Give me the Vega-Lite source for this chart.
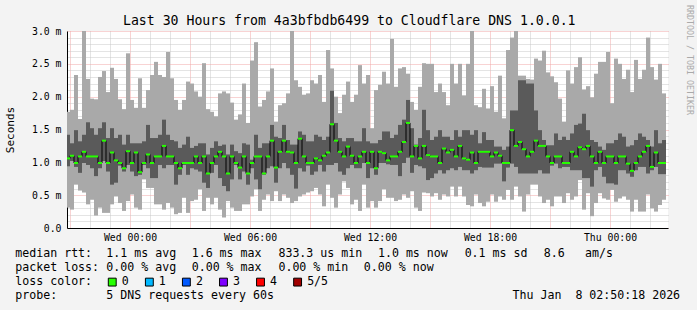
{
"$schema": "https://vega.github.io/schema/vega-lite/v6.json",
"background": "#f3f3f3",
"autosize": {"type": "none"},
"width": 601, "height": 197,
"padding": {"left": 67, "top": 31, "right": 29, "bottom": 82},
"title": {"text": "Last 30 Hours from 4a3bfbdb6499 to Cloudflare DNS 1.0.0.1", "font": "DejaVu Sans Mono", "fontSize": 13.2, "fontWeight": "normal", "color": "#000000", "anchor": "middle", "frame": "bounds", "baseline": "alphabetic", "offset": -33},
"config": {"view": {"stroke": null}},
"view": {"fill": "#ffffff", "stroke": null},
"layer": [
{
"data": {"values": [
{"t":"2026-01-06T20:54:00Z","min":0.31,"p2":0.94,"med":1.06,"p4":1.42,"max":1.77},
{"t":"2026-01-06T21:06:00Z","min":0.28,"p2":1.02,"med":1.10,"p4":1.29,"max":1.80},
{"t":"2026-01-06T21:18:00Z","min":0.66,"p2":0.93,"med":0.99,"p4":1.49,"max":2.33},
{"t":"2026-01-06T21:30:00Z","min":0.57,"p2":0.84,"med":1.09,"p4":1.32,"max":1.66},
{"t":"2026-01-06T21:42:00Z","min":0.54,"p2":0.99,"med":1.16,"p4":1.42,"max":3.05},
{"t":"2026-01-06T21:54:00Z","min":0.36,"p2":0.96,"med":1.09,"p4":1.61,"max":2.27},
{"t":"2026-01-06T22:06:00Z","min":0.43,"p2":0.91,"med":1.09,"p4":1.52,"max":1.97},
{"t":"2026-01-06T22:18:00Z","min":0.19,"p2":0.79,"med":1.09,"p4":1.42,"max":1.96},
{"t":"2026-01-06T22:30:00Z","min":0.31,"p2":0.91,"med":0.99,"p4":1.52,"max":2.30},
{"t":"2026-01-06T22:42:00Z","min":0.23,"p2":1.02,"med":1.33,"p4":1.61,"max":2.39},
{"t":"2026-01-06T22:54:00Z","min":0.23,"p2":0.86,"med":0.99,"p4":1.37,"max":2.07},
{"t":"2026-01-06T23:06:00Z","min":0.36,"p2":0.66,"med":1.15,"p4":1.52,"max":2.44},
{"t":"2026-01-06T23:18:00Z","min":0.48,"p2":0.69,"med":1.03,"p4":1.37,"max":2.27},
{"t":"2026-01-06T23:30:00Z","min":0.38,"p2":0.95,"med":0.99,"p4":1.42,"max":1.96},
{"t":"2026-01-06T23:42:00Z","min":0.26,"p2":0.86,"med":0.91,"p4":1.27,"max":1.81},
{"t":"2026-01-06T23:54:00Z","min":0.41,"p2":0.96,"med":1.17,"p4":1.42,"max":2.66},
{"t":"2026-01-07T00:06:00Z","min":0.51,"p2":0.86,"med":0.99,"p4":1.29,"max":1.95},
{"t":"2026-01-07T00:18:00Z","min":0.31,"p2":0.79,"med":1.15,"p4":1.29,"max":1.83},
{"t":"2026-01-07T00:30:00Z","min":0.28,"p2":0.81,"med":0.85,"p4":1.29,"max":2.28},
{"t":"2026-01-07T00:42:00Z","min":0.74,"p2":0.96,"med":0.99,"p4":1.32,"max":1.83},
{"t":"2026-01-07T00:54:00Z","min":0.61,"p2":0.91,"med":1.12,"p4":1.57,"max":2.10},
{"t":"2026-01-07T01:06:00Z","min":0.61,"p2":0.76,"med":0.99,"p4":1.37,"max":2.33},
{"t":"2026-01-07T01:18:00Z","min":0.36,"p2":0.76,"med":1.09,"p4":1.37,"max":2.53},
{"t":"2026-01-07T01:30:00Z","min":0.36,"p2":0.96,"med":1.09,"p4":1.42,"max":2.33},
{"t":"2026-01-07T01:42:00Z","min":0.28,"p2":0.91,"med":1.25,"p4":1.65,"max":2.30},
{"t":"2026-01-07T01:54:00Z","min":0.38,"p2":0.96,"med":1.09,"p4":1.42,"max":2.68},
{"t":"2026-01-07T02:06:00Z","min":0.31,"p2":0.96,"med":1.09,"p4":1.34,"max":2.28},
{"t":"2026-01-07T02:18:00Z","min":0.21,"p2":0.66,"med":0.99,"p4":1.32,"max":1.95},
{"t":"2026-01-07T02:30:00Z","min":0.23,"p2":0.81,"med":0.91,"p4":1.22,"max":1.80},
{"t":"2026-01-07T02:42:00Z","min":0.46,"p2":0.96,"med":0.99,"p4":1.27,"max":1.95},
{"t":"2026-01-07T02:54:00Z","min":0.23,"p2":0.81,"med":0.99,"p4":1.39,"max":2.23},
{"t":"2026-01-07T03:06:00Z","min":0.41,"p2":0.91,"med":0.99,"p4":1.22,"max":2.20},
{"t":"2026-01-07T03:18:00Z","min":0.43,"p2":0.89,"med":1.09,"p4":1.25,"max":2.08},
{"t":"2026-01-07T03:30:00Z","min":0.59,"p2":0.86,"med":0.99,"p4":1.29,"max":2.00},
{"t":"2026-01-07T03:42:00Z","min":0.26,"p2":0.69,"med":1.09,"p4":1.29,"max":2.51},
{"t":"2026-01-07T03:54:00Z","min":0.46,"p2":0.61,"med":0.83,"p4":1.12,"max":1.81},
{"t":"2026-01-07T04:06:00Z","min":0.36,"p2":0.84,"med":0.99,"p4":1.22,"max":1.77},
{"t":"2026-01-07T04:18:00Z","min":0.46,"p2":0.96,"med":1.09,"p4":1.32,"max":1.70},
{"t":"2026-01-07T04:30:00Z","min":0.28,"p2":0.76,"med":1.16,"p4":1.25,"max":2.05},
{"t":"2026-01-07T04:42:00Z","min":0.16,"p2":0.64,"med":1.09,"p4":1.27,"max":2.08},
{"t":"2026-01-07T04:54:00Z","min":0.41,"p2":0.56,"med":0.83,"p4":1.12,"max":2.05},
{"t":"2026-01-07T05:06:00Z","min":0.31,"p2":0.74,"med":1.09,"p4":1.27,"max":1.91},
{"t":"2026-01-07T05:18:00Z","min":0.26,"p2":0.96,"med":0.99,"p4":1.17,"max":1.65},
{"t":"2026-01-07T05:30:00Z","min":0.26,"p2":0.74,"med":0.92,"p4":1.14,"max":1.73},
{"t":"2026-01-07T05:42:00Z","min":0.36,"p2":0.86,"med":1.09,"p4":1.29,"max":2.20},
{"t":"2026-01-07T05:54:00Z","min":0.36,"p2":0.66,"med":0.83,"p4":1.27,"max":1.60},
{"t":"2026-01-07T06:06:00Z","min":0.48,"p2":0.91,"med":0.99,"p4":1.04,"max":2.55},
{"t":"2026-01-07T06:18:00Z","min":0.59,"p2":0.74,"med":1.09,"p4":1.42,"max":2.83},
{"t":"2026-01-07T06:30:00Z","min":0.26,"p2":0.59,"med":1.09,"p4":1.22,"max":1.85},
{"t":"2026-01-07T06:42:00Z","min":0.43,"p2":0.81,"med":0.83,"p4":1.29,"max":1.95},
{"t":"2026-01-07T06:54:00Z","min":0.51,"p2":0.91,"med":1.09,"p4":1.29,"max":2.08},
{"t":"2026-01-07T07:06:00Z","min":0.41,"p2":0.94,"med":1.33,"p4":1.57,"max":2.43},
{"t":"2026-01-07T07:18:00Z","min":0.56,"p2":0.69,"med":0.92,"p4":1.39,"max":1.62},
{"t":"2026-01-07T07:30:00Z","min":0.41,"p2":0.91,"med":1.16,"p4":1.37,"max":1.87},
{"t":"2026-01-07T07:42:00Z","min":0.51,"p2":0.99,"med":1.33,"p4":1.57,"max":1.90},
{"t":"2026-01-07T07:54:00Z","min":0.46,"p2":0.91,"med":1.16,"p4":1.34,"max":2.05},
{"t":"2026-01-07T08:06:00Z","min":0.38,"p2":0.81,"med":1.15,"p4":1.27,"max":3.05},
{"t":"2026-01-07T08:18:00Z","min":0.41,"p2":0.60,"med":0.99,"p4":1.27,"max":2.25},
{"t":"2026-01-07T08:30:00Z","min":0.48,"p2":0.91,"med":1.36,"p4":1.47,"max":2.15},
{"t":"2026-01-07T08:42:00Z","min":0.51,"p2":0.86,"med":1.09,"p4":1.42,"max":2.03},
{"t":"2026-01-07T08:54:00Z","min":0.54,"p2":0.95,"med":0.99,"p4":1.32,"max":2.05},
{"t":"2026-01-07T09:06:00Z","min":0.56,"p2":0.81,"med":0.99,"p4":1.32,"max":2.25},
{"t":"2026-01-07T09:18:00Z","min":0.61,"p2":0.86,"med":1.06,"p4":1.42,"max":2.20},
{"t":"2026-01-07T09:30:00Z","min":0.51,"p2":0.96,"med":1.03,"p4":1.39,"max":2.33},
{"t":"2026-01-07T09:42:00Z","min":0.33,"p2":0.86,"med":1.10,"p4":1.34,"max":1.92},
{"t":"2026-01-07T09:54:00Z","min":0.66,"p2":0.96,"med":1.15,"p4":1.39,"max":2.71},
{"t":"2026-01-07T10:06:00Z","min":0.46,"p2":0.96,"med":1.58,"p4":2.09,"max":2.43},
{"t":"2026-01-07T10:18:00Z","min":0.31,"p2":0.99,"med":1.33,"p4":1.60,"max":2.00},
{"t":"2026-01-07T10:30:00Z","min":0.51,"p2":0.86,"med":1.16,"p4":1.37,"max":1.75},
{"t":"2026-01-07T10:42:00Z","min":0.71,"p2":0.81,"med":1.09,"p4":1.32,"max":2.03},
{"t":"2026-01-07T10:54:00Z","min":0.61,"p2":0.91,"med":1.24,"p4":1.37,"max":2.23},
{"t":"2026-01-07T11:06:00Z","min":0.36,"p2":0.96,"med":1.10,"p4":1.37,"max":1.92},
{"t":"2026-01-07T11:18:00Z","min":0.43,"p2":0.91,"med":0.99,"p4":1.32,"max":2.03},
{"t":"2026-01-07T11:30:00Z","min":0.26,"p2":0.91,"med":1.09,"p4":1.32,"max":2.48},
{"t":"2026-01-07T11:42:00Z","min":0.66,"p2":0.99,"med":1.16,"p4":1.52,"max":2.20},
{"t":"2026-01-07T11:54:00Z","min":0.31,"p2":0.76,"med":0.99,"p4":1.32,"max":2.33},
{"t":"2026-01-07T12:06:00Z","min":0.41,"p2":0.91,"med":1.16,"p4":1.29,"max":1.52},
{"t":"2026-01-07T12:18:00Z","min":0.31,"p2":0.81,"med":0.91,"p4":1.29,"max":2.10},
{"t":"2026-01-07T12:30:00Z","min":0.41,"p2":0.99,"med":1.16,"p4":1.34,"max":2.18},
{"t":"2026-01-07T12:42:00Z","min":0.59,"p2":0.99,"med":1.14,"p4":1.47,"max":2.38},
{"t":"2026-01-07T12:54:00Z","min":0.46,"p2":0.97,"med":1.03,"p4":1.47,"max":2.20},
{"t":"2026-01-07T13:06:00Z","min":0.46,"p2":0.96,"med":1.09,"p4":1.37,"max":2.88},
{"t":"2026-01-07T13:18:00Z","min":0.41,"p2":0.96,"med":1.09,"p4":1.42,"max":2.15},
{"t":"2026-01-07T13:30:00Z","min":0.43,"p2":0.79,"med":1.16,"p4":1.57,"max":2.43},
{"t":"2026-01-07T13:42:00Z","min":0.51,"p2":0.99,"med":1.31,"p4":1.65,"max":2.45},
{"t":"2026-01-07T13:54:00Z","min":0.46,"p2":1.07,"med":1.60,"p4":1.95,"max":2.35},
{"t":"2026-01-07T14:06:00Z","min":0.56,"p2":0.84,"med":1.09,"p4":1.52,"max":1.92},
{"t":"2026-01-07T14:18:00Z","min":0.31,"p2":0.96,"med":1.25,"p4":1.27,"max":1.80},
{"t":"2026-01-07T14:30:00Z","min":0.26,"p2":0.94,"med":1.06,"p4":1.37,"max":2.15},
{"t":"2026-01-07T14:42:00Z","min":0.54,"p2":0.91,"med":1.25,"p4":1.80,"max":2.51},
{"t":"2026-01-07T14:54:00Z","min":0.53,"p2":0.73,"med":1.11,"p4":1.49,"max":2.50},
{"t":"2026-01-07T15:06:00Z","min":0.48,"p2":0.76,"med":1.09,"p4":1.34,"max":2.50},
{"t":"2026-01-07T15:18:00Z","min":0.53,"p2":0.83,"med":1.09,"p4":1.39,"max":2.07},
{"t":"2026-01-07T15:30:00Z","min":0.43,"p2":0.88,"med":0.99,"p4":1.49,"max":2.20},
{"t":"2026-01-07T15:42:00Z","min":0.51,"p2":0.83,"med":1.21,"p4":1.39,"max":2.07},
{"t":"2026-01-07T15:54:00Z","min":0.48,"p2":0.88,"med":1.15,"p4":1.39,"max":1.87},
{"t":"2026-01-07T16:06:00Z","min":0.63,"p2":0.91,"med":1.19,"p4":1.34,"max":2.50},
{"t":"2026-01-07T16:18:00Z","min":0.48,"p2":0.88,"med":1.09,"p4":1.49,"max":2.20},
{"t":"2026-01-07T16:30:00Z","min":0.63,"p2":0.93,"med":1.25,"p4":1.39,"max":2.50},
{"t":"2026-01-07T16:42:00Z","min":0.48,"p2":0.88,"med":1.06,"p4":1.49,"max":2.02},
{"t":"2026-01-07T16:54:00Z","min":0.35,"p2":0.88,"med":1.04,"p4":1.49,"max":2.50},
{"t":"2026-01-07T17:06:00Z","min":0.33,"p2":0.83,"med":1.15,"p4":1.42,"max":3.05},
{"t":"2026-01-07T17:18:00Z","min":0.51,"p2":0.88,"med":0.99,"p4":1.49,"max":1.87},
{"t":"2026-01-07T17:30:00Z","min":0.38,"p2":0.93,"med":1.16,"p4":1.29,"max":1.84},
{"t":"2026-01-07T17:42:00Z","min":0.33,"p2":0.92,"med":1.16,"p4":1.46,"max":2.12},
{"t":"2026-01-07T17:54:00Z","min":0.40,"p2":0.92,"med":1.16,"p4":1.34,"max":1.82},
{"t":"2026-01-07T18:06:00Z","min":0.51,"p2":0.92,"med":1.09,"p4":1.34,"max":2.16},
{"t":"2026-01-07T18:18:00Z","min":0.40,"p2":0.98,"med":1.15,"p4":1.24,"max":1.77},
{"t":"2026-01-07T18:30:00Z","min":0.48,"p2":0.98,"med":1.10,"p4":1.24,"max":2.32},
{"t":"2026-01-07T18:42:00Z","min":0.43,"p2":0.71,"med":0.99,"p4":1.19,"max":1.67},
{"t":"2026-01-07T18:54:00Z","min":0.58,"p2":0.92,"med":0.99,"p4":1.24,"max":2.71},
{"t":"2026-01-07T19:06:00Z","min":0.43,"p2":0.98,"med":1.49,"p4":1.79,"max":2.90},
{"t":"2026-01-07T19:18:00Z","min":0.63,"p2":0.93,"med":1.25,"p4":1.79,"max":3.05},
{"t":"2026-01-07T19:30:00Z","min":0.48,"p2":0.83,"med":1.31,"p4":2.25,"max":2.32},
{"t":"2026-01-07T19:42:00Z","min":0.25,"p2":0.83,"med":1.20,"p4":2.25,"max":2.32},
{"t":"2026-01-07T19:54:00Z","min":0.51,"p2":0.83,"med":1.09,"p4":2.20,"max":2.27},
{"t":"2026-01-07T20:06:00Z","min":0.66,"p2":0.83,"med":1.16,"p4":2.20,"max":2.26},
{"t":"2026-01-07T20:18:00Z","min":0.66,"p2":0.83,"med":1.33,"p4":1.79,"max":2.58},
{"t":"2026-01-07T20:30:00Z","min":0.48,"p2":0.88,"med":1.25,"p4":1.49,"max":2.55},
{"t":"2026-01-07T20:42:00Z","min":0.38,"p2":0.83,"med":1.25,"p4":1.34,"max":2.70},
{"t":"2026-01-07T20:54:00Z","min":0.43,"p2":0.83,"med":1.09,"p4":1.26,"max":2.37},
{"t":"2026-01-07T21:06:00Z","min":0.33,"p2":0.95,"med":0.99,"p4":1.26,"max":2.31},
{"t":"2026-01-07T21:18:00Z","min":0.48,"p2":0.98,"med":1.09,"p4":1.44,"max":2.22},
{"t":"2026-01-07T21:30:00Z","min":0.48,"p2":0.91,"med":1.09,"p4":1.34,"max":1.97},
{"t":"2026-01-07T21:42:00Z","min":0.38,"p2":0.93,"med":0.99,"p4":1.39,"max":1.62},
{"t":"2026-01-07T21:54:00Z","min":0.53,"p2":0.93,"med":0.99,"p4":1.34,"max":2.40},
{"t":"2026-01-07T22:06:00Z","min":0.43,"p2":0.88,"med":1.16,"p4":1.44,"max":2.20},
{"t":"2026-01-07T22:18:00Z","min":0.48,"p2":0.88,"med":1.09,"p4":1.57,"max":2.45},
{"t":"2026-01-07T22:30:00Z","min":0.73,"p2":0.88,"med":1.23,"p4":1.59,"max":2.60},
{"t":"2026-01-07T22:42:00Z","min":0.28,"p2":0.76,"med":1.20,"p4":1.74,"max":2.11},
{"t":"2026-01-07T22:54:00Z","min":0.53,"p2":0.76,"med":1.25,"p4":1.49,"max":2.16},
{"t":"2026-01-07T23:06:00Z","min":0.18,"p2":0.63,"med":1.09,"p4":1.34,"max":1.99},
{"t":"2026-01-07T23:18:00Z","min":0.38,"p2":0.88,"med":0.99,"p4":1.31,"max":2.35},
{"t":"2026-01-07T23:30:00Z","min":0.53,"p2":0.93,"med":1.16,"p4":1.24,"max":2.53},
{"t":"2026-01-07T23:42:00Z","min":0.45,"p2":0.78,"med":0.99,"p4":1.19,"max":2.53},
{"t":"2026-01-07T23:54:00Z","min":0.43,"p2":0.68,"med":1.09,"p4":1.29,"max":2.68},
{"t":"2026-01-08T00:06:00Z","min":0.58,"p2":0.68,"med":1.09,"p4":1.29,"max":1.90},
{"t":"2026-01-08T00:18:00Z","min":0.40,"p2":0.66,"med":0.99,"p4":1.34,"max":2.58},
{"t":"2026-01-08T00:30:00Z","min":0.45,"p2":0.88,"med":1.09,"p4":1.44,"max":2.50},
{"t":"2026-01-08T00:42:00Z","min":0.48,"p2":0.88,"med":1.09,"p4":1.39,"max":2.27},
{"t":"2026-01-08T00:54:00Z","min":0.43,"p2":0.83,"med":0.98,"p4":1.24,"max":2.41},
{"t":"2026-01-08T01:06:00Z","min":0.25,"p2":0.78,"med":0.87,"p4":1.26,"max":2.07},
{"t":"2026-01-08T01:18:00Z","min":0.43,"p2":0.88,"med":0.99,"p4":1.34,"max":2.56},
{"t":"2026-01-08T01:30:00Z","min":0.25,"p2":0.93,"med":1.09,"p4":1.44,"max":2.27},
{"t":"2026-01-08T01:42:00Z","min":0.25,"p2":0.93,"med":1.16,"p4":1.39,"max":2.41},
{"t":"2026-01-08T01:54:00Z","min":0.51,"p2":0.83,"med":1.25,"p4":1.34,"max":2.90},
{"t":"2026-01-08T02:06:00Z","min":0.30,"p2":0.88,"med":0.93,"p4":1.24,"max":2.45},
{"t":"2026-01-08T02:18:00Z","min":0.25,"p2":0.93,"med":1.15,"p4":1.49,"max":2.26},
{"t":"2026-01-08T02:30:00Z","min":0.35,"p2":0.82,"med":0.99,"p4":1.29,"max":2.50},
{"t":"2026-01-08T02:42:00Z","min":0.43,"p2":0.82,"med":0.99,"p4":1.34,"max":2.05}
]},
"encoding": {
"x": {"field": "t", "type": "temporal",
"scale": {"type": "utc", "domain": [{"year": 2026, "month": 1, "date": 6, "hours": 20, "minutes": 51, "utc": true}, {"year": 2026, "month": 1, "date": 8, "hours": 2, "minutes": 54, "utc": true}], "nice": false, "padding": 0},
"axis": {"title": null, "tickCount": 30,
"labelExpr": "utchours(datum.value) % 6 == 0 ? utcFormat(datum.value, '%a %H:%M') : ''",
"labelFont": "DejaVu Sans Mono", "labelFontSize": 9.8, "labelColor": "#000000", "labelPadding": 4.6,
"labelFlush": false, "labelOverlap": false, "labelBound": false,
"ticks": false, "domainColor": "#000000", "domainWidth": 1,
"grid": true, "gridDash": [1, 1], "gridWidth": 1, "gridOpacity": 1,
"gridColor": {"condition": {"test": "utchours(datum.value) % 3 == 0", "value": "#f0a6a6"}, "value": "#c8c8c8"}}}
},
"layer": [
{"mark": {"type": "bar", "width": 4, "color": "#a9a9a9", "clip": true},
"encoding": {
"y": {"field": "min", "type": "quantitative", "scale": {"domain": [0, 3], "nice": false, "zero": true},
"axis": {"tickCount": 30,
"labelExpr": "abs(datum.value*2 - round(datum.value*2)) < 0.01 ? (datum.value == 0 ? '0.0' : format(datum.value, '.1f') + ' m') : ''",
"labelFont": "DejaVu Sans Mono", "labelFontSize": 9.8, "labelColor": "#000000", "labelPadding": 6,
"labelOverlap": false, "labelBound": false, "labelFlush": false,
"ticks": false, "domainColor": "#000000", "domainWidth": 1,
"grid": true, "gridDash": [1, 1], "gridWidth": 1, "gridOpacity": 1,
"gridColor": {"condition": {"test": "abs(datum.value*2 - round(datum.value*2)) < 0.01", "value": "#f0a6a6"}, "value": "#c8c8c8"},
"title": "Seconds", "titleFont": "DejaVu Sans Mono", "titleFontSize": 11, "titleFontWeight": "normal", "titleColor": "#000000",
"titleAngle": -90, "titleBaseline": "bottom", "titleAlign": "center", "titleX": -51.5, "titleY": 98.5}},
"y2": {"field": "max"}}},
{"mark": {"type": "bar", "width": 4, "color": "#5a5a5a", "clip": true},
"encoding": {
"y": {"field": "p2", "type": "quantitative"},
"y2": {"field": "p4"}}},
{"mark": {"type": "line", "interpolate": "step", "color": "#000000", "strokeWidth": 1, "clip": true},
"encoding": {
"y": {"field": "med", "type": "quantitative"}}},
{"mark": {"type": "tick", "orient": "horizontal", "size": 4, "thickness": 2, "color": "#26ff00", "opacity": 1, "clip": true},
"encoding": {
"y": {"field": "med", "type": "quantitative"}}}
]
},
{
"layer": [
{"data": {"values": [
{"line": 1, "col": 0, "text": "median rtt:"},
{"line": 1, "col": 13.01, "text": "1.1 ms avg"},
{"line": 1, "col": 25.2, "text": "1.6 ms max"},
{"line": 1, "col": 37.59, "text": "833.3 us min"},
{"line": 1, "col": 51.81, "text": "1.0 ms now"},
{"line": 1, "col": 64.19, "text": "0.1 ms sd"},
{"line": 1, "col": 75.49, "text": "8.6"},
{"line": 1, "col": 81.4, "text": "am/s"},
{"line": 2, "col": 0, "text": "packet loss:"},
{"line": 2, "col": 13.01, "text": "0.00 % avg"},
{"line": 2, "col": 25.2, "text": "0.00 % max"},
{"line": 2, "col": 37.59, "text": "0.00 % min"},
{"line": 2, "col": 49.79, "text": "0.00 % now"},
{"line": 3, "col": 0, "text": "loss color:"},
{"line": 3, "col": 15.21, "text": "0"},
{"line": 3, "col": 20.51, "text": "1"},
{"line": 3, "col": 25.8, "text": "2"},
{"line": 3, "col": 31.1, "text": "3"},
{"line": 3, "col": 36.39, "text": "4"},
{"line": 3, "col": 41.69, "text": "5/5"},
{"line": 4, "col": 0, "text": "probe:"},
{"line": 4, "col": 13.01, "text": "5 DNS requests every 60s"},
{"line": 4, "col": 71.04, "text": "Thu Jan\u00a0\u00a08 02:50:18 2026"}
]},
"mark": {"type": "text", "align": "left", "baseline": "middle", "font": "DejaVu Sans Mono", "fontSize": 11.6, "color": "#000000", "clip": false},
"encoding": {
"x": {"field": "col", "type": "quantitative", "scale": {"domain": [7.386, 93.243], "nice": false, "zero": false}, "axis": null},
"y": {"field": "line", "type": "quantitative", "scale": {"domain": [-15.065, -0.892], "reverse": true, "nice": false, "zero": false}, "axis": null},
"text": {"field": "text"}}},
{"data": {"values": [
{"line": 3, "col": 13.85, "loss": "0"},
{"line": 3, "col": 19.15, "loss": "1"},
{"line": 3, "col": 24.44, "loss": "2"},
{"line": 3, "col": 29.74, "loss": "3"},
{"line": 3, "col": 35.03, "loss": "4"},
{"line": 3, "col": 40.33, "loss": "5/5"}
]},
"mark": {"type": "square", "size": 62, "filled": true, "stroke": "#000000", "strokeWidth": 1, "opacity": 1, "clip": false},
"encoding": {
"x": {"field": "col", "type": "quantitative", "scale": {"domain": [7.386, 93.243], "nice": false, "zero": false}, "axis": null},
"y": {"field": "line", "type": "quantitative", "scale": {"domain": [-15.065, -0.892], "reverse": true, "nice": false, "zero": false}, "axis": null},
"color": {"field": "loss", "type": "nominal", "scale": {"domain": ["0", "1", "2", "3", "4", "5/5"], "range": ["#26ff00", "#00b8ff", "#0059ff", "#7e00ff", "#ff0000", "#a10000"]}, "legend": null}}},
{"data": {"values": [
{"line": -12.98, "col": 96.24, "text": "RRDTOOL / TOBI OETIKER"}
]},
"mark": {"type": "text", "angle": 90, "align": "center", "baseline": "middle", "font": "DejaVu Sans Mono", "fontSize": 8.3, "color": "#aaaaaa", "clip": false},
"encoding": {
"x": {"field": "col", "type": "quantitative", "scale": {"domain": [7.386, 93.243], "nice": false, "zero": false}, "axis": null},
"y": {"field": "line", "type": "quantitative", "scale": {"domain": [-15.065, -0.892], "reverse": true, "nice": false, "zero": false}, "axis": null},
"text": {"field": "text"}}}
]
}
],
"resolve": {"scale": {"x": "independent", "y": "independent"}}
}
